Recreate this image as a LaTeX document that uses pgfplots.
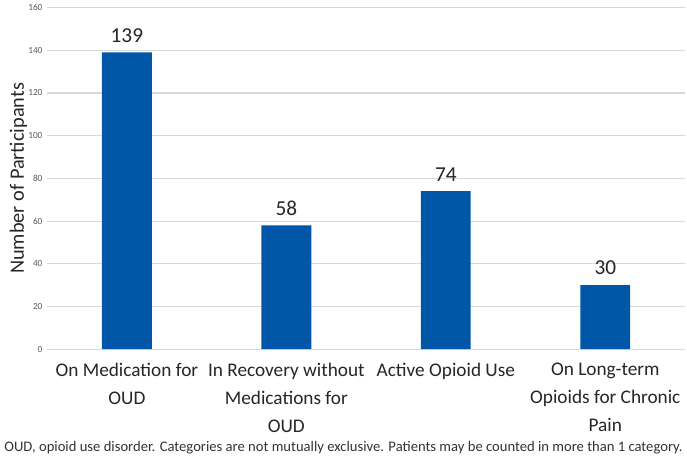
\documentclass[border=0pt]{standalone}
\usepackage{fontspec}
\setmainfont{Carlito}
\usepackage{pgfplots}
\pgfplotsset{compat=1.18}
\definecolor{barblue}{RGB}{0,87,168}
\definecolor{gridgray}{RGB}{217,217,217}
\begin{document}
\begin{tikzpicture}
\begin{axis}[
    scale only axis,
    width=480pt, height=257pt,
    ymin=0, ymax=160,
    ytick={0,20,...,160},
    xmin=-0.5, xmax=3.5,
    xtick={0,1,2,3},
    xticklabels={On Medication for\\OUD, In Recovery without\\Medications for\\OUD, Active Opioid Use, On Long-term\\Opioids for Chronic\\Pain},
    xticklabel style={align=center, font=\fontsize{14.5}{21}\selectfont, text=black!85, yshift=-7pt},
    yticklabel style={font=\fontsize{7}{8}\selectfont, text=black!65},
    /pgf/number format/assume math mode=true,
    axis line style={draw=none},
    major tick length=0pt,
    ymajorgrids,
    grid style={gridgray, line width=0.8pt},
    ylabel={Number of Participants},
    ylabel style={font=\fontsize{15.3}{18}\selectfont, text=black!85, yshift=-6pt},
    clip=false,
]
\addplot[ybar, bar width=37.5pt, fill=barblue, draw=none,
    nodes near coords,
    every node near coord/.append style={font=\fontsize{16}{18}\selectfont, text=black!85, yshift=4pt}]
    coordinates {(0,139) (1,58) (2,74) (3,30)};
\end{axis}
\node[anchor=base, font=\fontsize{11}{13}\selectfont, text=black!80] at (480pt/2-17pt, -77pt)
    {OUD, opioid use disorder. Categories are not mutually exclusive. Patients may be counted in more than 1 category.};
\end{tikzpicture}
\end{document}
